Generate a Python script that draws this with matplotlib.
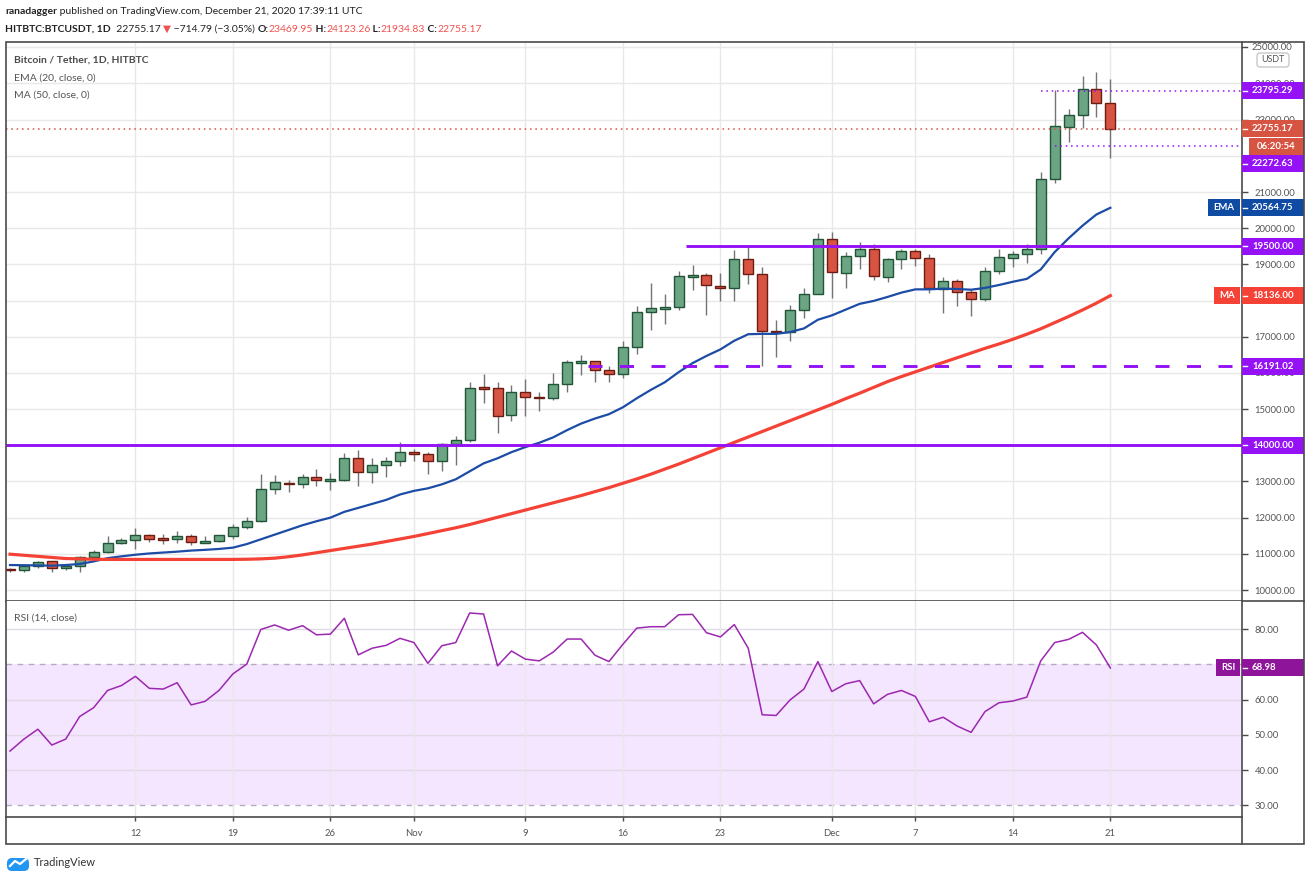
import numpy as np
import pandas as pd
import matplotlib
matplotlib.use('Agg')
import matplotlib.pyplot as plt
from matplotlib import font_manager
from matplotlib.patches import Rectangle, FancyBboxPatch
from matplotlib.lines import Line2D
from matplotlib.transforms import IdentityTransform, Bbox

W, H = 1311, 881

# narrow font if we have it, else Lato scaled down
names = {f.name for f in font_manager.fontManager.ttflist}
if 'Liberation Sans Narrow' in names:
    FONT, K = 'Liberation Sans Narrow', 1.0
else:
    FONT, K = 'Lato', 0.8
plt.rcParams['font.family'] = [FONT, 'DejaVu Sans']

# ---- data: HITBTC BTC/USDT daily, 3 Oct - 21 Dec 2020 ----
dates = pd.date_range('2020-10-03', '2020-12-21', freq='D')

opens = [10580, 10550, 10670, 10790, 10600, 10660, 10910, 11050, 11290, 11375,
         11510, 11420, 11405, 11480, 11320, 11350, 11490, 11740, 11900, 12790,
         12960, 12930, 13120, 13030, 13050, 13640, 13260, 13450, 13560, 13800,
         13750, 13560, 14030, 14140, 15580, 15570, 14830, 15460, 15330, 15300,
         15690, 16300, 16320, 16070, 15960, 16710, 17680, 17790, 17810, 18670,
         18700, 18410, 18360, 19140, 18730, 17150, 17140, 17730, 18180, 19700,
         18770, 19220, 19420, 18660, 19140, 19360, 19170, 18320, 18530, 18250,
         18030, 18810, 19170, 19280, 19420, 21350, 22810, 23120, 23840, 23469.95]
highs = [10620, 10700, 10800, 10800, 10690, 10950, 11100, 11490, 11430, 11720,
         11560, 11550, 11620, 11560, 11480, 11520, 11830, 12030, 13210, 13180,
         13050, 13200, 13340, 13230, 13790, 13870, 13650, 13680, 14080, 13900,
         13820, 14060, 14250, 15740, 15970, 15740, 15660, 15840, 15460, 15990,
         16350, 16490, 16330, 16190, 16890, 17850, 18480, 18180, 18810, 18980,
         18750, 18750, 19400, 19480, 18920, 17460, 17880, 18350, 19860, 19900,
         19350, 19610, 19560, 19180, 19420, 19420, 19300, 18640, 18590, 18290,
         18940, 19420, 19360, 19570, 21550, 23810, 23300, 24220, 24330, 24123.26]
lows = [10500, 10490, 10620, 10510, 10550, 10510, 10890, 11030, 11270, 11140,
        11320, 11280, 11300, 11250, 11300, 11340, 11400, 11690, 11880, 12660,
        12720, 12830, 12870, 12760, 13010, 12880, 12950, 13110, 13420, 13560,
        13200, 13280, 13450, 14100, 15180, 14350, 14680, 14800, 14960, 15240,
        15460, 15950, 15740, 15760, 15870, 16530, 17200, 17340, 17750, 18300,
        17610, 18000, 18000, 18450, 16190, 16430, 16870, 17510, 18180, 18080,
        18340, 18870, 18560, 18500, 18860, 18950, 18200, 17650, 17840, 17570,
        18000, 18740, 18940, 19050, 19280, 21240, 22370, 22760, 23080, 21934.83]
closes = [10550, 10670, 10770, 10600, 10670, 10910, 11040, 11290, 11375, 11515,
          11400, 11400, 11480, 11320, 11350, 11510, 11740, 11900, 12790, 12980,
          12930, 13120, 13030, 13060, 13640, 13260, 13450, 13560, 13810, 13760,
          13560, 14030, 14140, 15580, 15570, 14800, 15460, 15330, 15310, 15690,
          16300, 16320, 16070, 15960, 16710, 17680, 17790, 17810, 18670, 18690,
          18420, 18360, 19140, 18730, 17150, 17130, 17730, 18170, 19700, 18780,
          19220, 19420, 18670, 19140, 19360, 19170, 18340, 18530, 18230, 18030,
          18810, 19200, 19280, 19420, 21350, 22820, 23120, 23840, 23470, 22755.17]

ema20 = [10690, 10685, 10680, 10672, 10690, 10719, 10790, 10880, 10930, 10975,
         11010, 11035, 11060, 11090, 11110, 11135, 11170, 11270, 11400, 11530,
         11660, 11790, 11900, 12000, 12160, 12270, 12380, 12490, 12640, 12740,
         12810, 12920, 13060, 13280, 13500, 13640, 13810, 13950, 14070, 14220,
         14420, 14600, 14740, 14860, 15050, 15300, 15530, 15740, 16020, 16270,
         16470, 16650, 16890, 17070, 17080, 17080, 17130, 17230, 17470, 17590,
         17750, 17910, 17990, 18100, 18220, 18310, 18310, 18330, 18320, 18300,
         18350, 18430, 18520, 18600, 18860, 19340, 19720, 20070, 20380, 20564.75]
ma50 = [10990, 10960, 10930, 10900, 10870, 10860, 10850, 10845, 10845, 10845,
        10845, 10845, 10845, 10845, 10845, 10845, 10845, 10850, 10860, 10880,
        10920, 10970, 11030, 11090, 11150, 11210, 11270, 11340, 11410, 11480,
        11560, 11640, 11720, 11810, 11910, 12010, 12110, 12210, 12310, 12410,
        12510, 12610, 12720, 12830, 12950, 13070, 13200, 13340, 13480, 13630,
        13780, 13930, 14080, 14230, 14380, 14530, 14680, 14830, 14980, 15130,
        15290, 15440, 15600, 15760, 15900, 16030, 16160, 16290, 16420, 16550,
        16680, 16800, 16930, 17070, 17220, 17390, 17560, 17740, 17930, 18136]
rsi14 = [45.4, 48.8, 51.6, 47.1, 48.8, 55.2, 57.7, 62.6, 64.0, 66.6,
         63.2, 63.0, 64.8, 58.5, 59.5, 62.6, 67.3, 70.1, 79.9, 81.2,
         79.7, 81.0, 78.4, 78.6, 83.1, 72.7, 74.6, 75.4, 77.4, 76.2,
         70.3, 75.3, 76.2, 84.6, 84.3, 69.6, 73.8, 71.5, 71.0, 73.5,
         77.2, 77.2, 72.6, 70.8, 75.7, 80.3, 80.7, 80.7, 84.1, 84.2,
         79.0, 77.8, 81.3, 74.6, 55.7, 55.5, 59.9, 63.0, 70.8, 62.3,
         64.5, 65.4, 58.8, 61.5, 62.6, 60.9, 53.7, 55.0, 52.5, 50.7,
         56.6, 59.1, 59.6, 60.7, 71.0, 76.2, 77.1, 79.1, 75.5, 68.98]

# drawn levels: (price, start date, style)
levels = [(14000.00, '2020-10-03', 'solid'),
          (16191.02, '2020-11-14', 'dashed'),
          (19500.00, '2020-11-21', 'solid')]
hl_marks = [(23795.29, '2020-12-16'), (22272.63, '2020-12-17')]
last_price = 22755.17
countdown = '06:20:54'
tick_dates = ['2020-10-12', '2020-10-19', '2020-10-26', '2020-11-01', '2020-11-09',
              '2020-11-16', '2020-11-23', '2020-12-01', '2020-12-07', '2020-12-14',
              '2020-12-21']
# axis prices whose labels sit fully under a coloured tag
hidden_prices = [14000, 18000, 22000]

VIOLET = '#9512f7'
GRID = '#e8e8e8'
FRAME = '#4a4a4a'
TXT = '#555555'

idx = np.arange(len(dates))
day = {d.strftime('%Y-%m-%d'): i for i, d in enumerate(dates)}

fig = plt.figure(figsize=(W / 100, H / 100), dpi=100)
fig.patch.set_facecolor('white')


def px_axes(l, t, r, b):
    return fig.add_axes([l / W, 1 - b / H, (r - l) / W, (b - t) / H])


ax = px_axes(6, 42, 1242, 601)
axr = px_axes(6, 601, 1242, 817)

xlim = (-0.29, 88.45)
for a in (ax, axr):
    a.set_xlim(*xlim)
    a.set_facecolor('white')
    for s in ('left', 'top'):
        a.spines[s].set_visible(False)
    for s in ('right', 'bottom'):
        a.spines[s].set_color(FRAME)
        a.spines[s].set_linewidth(1.2)
    a.set_xticks([day[d] for d in tick_dates])
    a.set_axisbelow(True)
    a.grid(axis='x', color=GRID, lw=1)
    a.yaxis.tick_right()
    a.tick_params(axis='y', direction='out', length=4, width=1, color=FRAME,
                  labelsize=8.5 * K, labelcolor=TXT, pad=5)

ax.set_ylim(9696, 25147)
ax.tick_params(axis='x', length=0, labelbottom=False)
price_ticks = np.arange(10000, 25000, 1000)
ax.set_yticks(price_ticks)
ax.set_yticklabels(['' if v in hidden_prices else '%.2f' % v for v in price_ticks])
for v in list(price_ticks) + [25000]:
    ax.axhline(v, color=GRID, lw=1, zorder=0)

# candles
o, h, l, c = (np.array(v, float) for v in (opens, highs, lows, closes))
up = c >= o
body = np.maximum(np.abs(c - o), 45)
bottom = (o + c) / 2 - body / 2
ax.vlines(idx, l, h, color='#747478', lw=1, zorder=3)
ax.bar(idx[up], body[up], bottom=bottom[up], width=0.72, color='#6ba583',
       edgecolor='#225437', lw=1, zorder=4)
ax.bar(idx[~up], body[~up], bottom=bottom[~up], width=0.72, color='#d75442',
       edgecolor='#6b1d14', lw=1, zorder=4)

ax.plot(idx, ema20, color='#1c4ca6', lw=1.6, zorder=5)
ax.plot(idx, ma50, color='#f44336', lw=2.3, zorder=5)

for price, start, style in levels:
    ls = (0, (4.8, 6.0)) if style == 'dashed' else '-'
    ax.hlines(price, day[start] - 0.5, 100, color=VIOLET, lw=2.1, linestyles=[ls], zorder=6)
for price, start in hl_marks:
    ax.hlines(price, day[start], 100, color=VIOLET, lw=1.1, linestyles=[(0, (1, 2.5))], zorder=6)
ax.axhline(last_price, color='#d75442', lw=1.1, ls=(0, (1, 2.5)), zorder=6)

# RSI pane
axr.set_ylim(26.67, 88.0)
axr.axhspan(30, 70, color=VIOLET, alpha=0.1, lw=0, zorder=0)
for v in (40, 50, 60, 80):
    axr.axhline(v, color='#e0dae6', lw=1, zorder=0.5)
for v in (30, 70):
    axr.axhline(v, color='#b5abbd', lw=1, ls=(0, (4, 4)), zorder=0.5)
axr.plot(idx, rsi14, color='#9c27b0', lw=1.1, zorder=4)
axr.set_yticks([30, 40, 50, 60, 70, 80])
axr.set_yticklabels(['' if v == 70 else '%.2f' % v for v in (30, 40, 50, 60, 70, 80)])
axr.set_xticklabels([d[8:].lstrip('0') if not d.endswith('-01')
                     else pd.Timestamp(d).strftime('%b') for d in tick_dates])
axr.tick_params(axis='x', direction='out', length=3, width=1, color=FRAME,
                labelsize=8.5 * K, labelcolor=TXT, pad=6)

ID = IdentityTransform()


def yd_of(a, v):
    return a.transData.transform((0, v))[1]


def tag(a, val, text, color, x0=1242, x1=1304, hgt=17, dy=0, tick=True, ha='left'):
    y = yd_of(a, val) - dy
    fig.add_artist(Rectangle((x0, y - hgt / 2), x1 - x0, hgt, transform=ID,
                             facecolor=color, edgecolor='none', zorder=10))
    if tick:
        fig.add_artist(Line2D([x0 + 1, x0 + 5], [y, y], transform=ID, color='white',
                              lw=1, zorder=11))
    tx = x0 + 10 if ha == 'left' else (x0 + x1) / 2
    fig.text(tx, y, text, transform=ID, color='white', fontsize=8.7 * K,
             fontweight='bold', va='center', ha=ha, zorder=12)


tag(ax, 23795.29, '23795.29', VIOLET)
tag(ax, last_price, '%.2f' % last_price, '#d75442')
tag(ax, last_price, countdown, '#d75442', x0=1249, dy=18, tick=False, ha='center')
tag(ax, 22272.63, '22272.63', VIOLET, dy=18)
tag(ax, ema20[-1], '%.2f' % ema20[-1], '#0f4aa3')
tag(ax, ema20[-1], 'EMA', '#0f4aa3', x0=1208, x1=1240, tick=False, ha='center')
tag(ax, 19500.00, '19500.00', VIOLET)
tag(ax, ma50[-1], '%.2f' % ma50[-1], '#f44336')
tag(ax, ma50[-1], 'MA', '#f44336', x0=1214, x1=1240, tick=False, ha='center')
tag(ax, 16191.02, '16191.02', VIOLET)
tag(ax, 14000.00, '14000.00', VIOLET)
tag(axr, rsi14[-1], '%.2f' % rsi14[-1], '#8e1599')
tag(axr, rsi14[-1], 'RSI', '#8e1599', x0=1216, x1=1240, tick=False, ha='center')

# 25000 label, clipped by the frame
y25 = yd_of(ax, 25000)
t25 = fig.text(1252, y25, '25000.00', transform=ID, color=TXT, fontsize=8.5 * K, va='center')
t25.set_clip_box(Bbox([[1243, 0], [1304, H - 43]]))
t25.set_clip_on(True)
fig.add_artist(Line2D([1242, 1247], [y25, y25], transform=ID, color=FRAME, lw=1))
fig.add_artist(FancyBboxPatch((1257, H - 67), 32, 14, boxstyle='round,pad=0,rounding_size=3',
                              transform=ID, facecolor='white', edgecolor='#c8c8c8', lw=1, zorder=9))
fig.text(1273, H - 60, 'USDT', transform=ID, color=TXT, fontsize=8 * K, ha='center',
         va='center', zorder=10)

# outer frame
fig.add_artist(Rectangle((6, H - 844), 1298, 802, transform=ID, fill=False,
                         edgecolor=FRAME, lw=1.2, zorder=20))
fig.add_artist(Line2D([1242, 1242], [H - 844, H - 817], transform=ID, color=FRAME, lw=1.2))
fig.add_artist(Line2D([1242, 1304], [H - 601, H - 601], transform=ID, color=FRAME, lw=1.2))

# legends inside panes
fig.text(14, H - 60, 'Bitcoin / Tether, 1D, HITBTC', transform=ID, color='#4a4a4a',
         fontsize=9.3 * K, fontweight='bold', va='center')
fig.text(14, H - 78, 'EMA (20, close, 0)', transform=ID, color='#555555',
         fontsize=9.3 * K, va='center')
fig.text(14, H - 95, 'MA (50, close, 0)', transform=ID, color='#555555',
         fontsize=9.3 * K, va='center')
fig.text(14, H - 618, 'RSI (14, close)', transform=ID, color='#555555',
         fontsize=9.3 * K, va='center')

# header, drawn run by run
renderer = fig.canvas.get_renderer()


def runs(x, y, parts, size):
    for s, col, wt in parts:
        t = fig.text(x, H - y, s, transform=ID, color=col, fontweight=wt,
                     fontsize=size, va='center', ha='left')
        x += t.get_window_extent(renderer).width


DARK = '#222222'
RED = '#ef5350'
runs(5, 12, [('ranadagger', DARK, 'bold'),
             (' published on TradingView.com, December 21, 2020 17:39:11 UTC', DARK, 'normal')],
     9.3 * K)
runs(5, 29, [('HITBTC:BTCUSDT, 1D', DARK, 'bold'), ('  22755.17 ', DARK, 'normal'),
             ('\u25bc', RED, 'normal'), (' \u2212714.79 (\u22123.05%) ', DARK, 'normal'),
             ('O:', DARK, 'bold'), ('23469.95', RED, 'normal'),
             (' H:', DARK, 'bold'), ('24123.26', RED, 'normal'),
             (' L:', DARK, 'bold'), ('21934.83', RED, 'normal'),
             (' C:', DARK, 'bold'), ('22755.17', RED, 'normal')],
     9.3 * K)

# TradingView logo
fig.add_artist(FancyBboxPatch((7, H - 871), 22, 13, boxstyle='round,pad=0,rounding_size=5',
                              transform=ID, facecolor='#2196f3', edgecolor='none'))
fig.add_artist(Line2D([10, 15, 20, 26], [H - 866, H - 861, H - 864, H - 859], transform=ID,
                      color='white', lw=1.6))
fig.text(34, H - 862, 'TradingView', transform=ID, color='#333333', fontsize=10 * K,
         va='center')

fig.savefig('out.png', dpi=100, facecolor='white')
